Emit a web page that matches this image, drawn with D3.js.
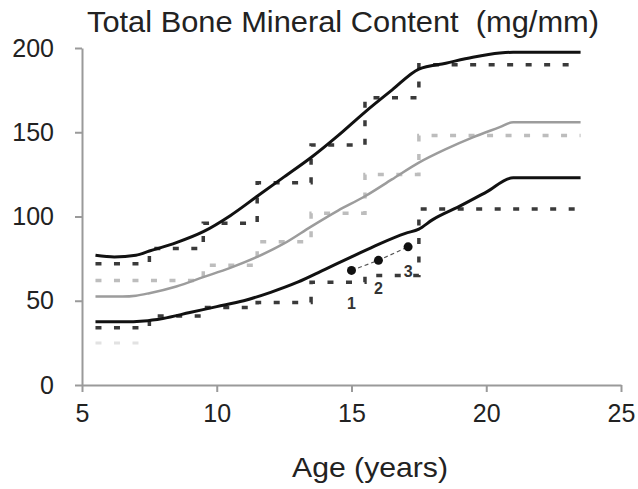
<!DOCTYPE html>
<html>
<head>
<meta charset="utf-8">
<script src="https://cdn.jsdelivr.net/npm/d3@7"></script>
<style>
  body { margin: 0; background: #fff; }
  text { font-family: "Liberation Sans", Arial, sans-serif; }
</style>
</head>
<body>
<script>
// reference curves (age, mg/mm)
var upperCurve = [[5.5,77],[6.2,76],[7,77],[7.5,79.5],[8.5,84.5],[9.5,91],[10.5,100.5],[11.5,112],[12.5,123.5],
  [13.5,135],[14.5,148],[15.5,162],[16.5,175],[17.5,187.5],[18.5,191],[19.5,194.5],[20.5,197],[21,197.5],[23.5,197.5]];
var medianCurve = [[5.5,52.5],[6.5,52.5],[7,53],[7.5,54.5],[8.5,58.5],[9.5,64],[10.5,69.5],[11.5,76],[12.5,84],
  [13.5,94],[14.5,103.5],[15.5,112],[16.5,122],[17.5,132],[18.5,140],[19.5,147],[20.5,153],[21,156],[23.5,156]];
var lowerCurve = [[5.5,37.5],[6.5,37.5],[7.3,38],[8,39.5],[9,43],[10,46.5],[11,50],[12,55],[13,61],[14,68.5],
  [15,76],[16,83.5],[17,90],[17.5,92.5],[18,98],[19,106],[20,114.5],[21,123],[23.5,123]];

// age bins of the step (dotted) series
var binEdges = [5.5, 7.5, 9.5, 11.5, 13.5, 15.5, 17.5, 23.5];
var upperSteps = [72, 81, 96, 120, 142.5, 170.5, 190];
var medianSteps = [62, 62, 71, 85, 102, 125, 148];
var lowerSteps = [34, 41, 46, 49, 61, 65, 104.5];
var faintSteps = [25];

// patient measurements
var patientAge = [15, 16, 17.1];
var patientBmc = [68, 74, 82];
var patientLabels = ["1", "2", "3"];
var labelDrop = [33, 28, 24];

var xTicks = [5, 10, 15, 20, 25];
var yTicks = [0, 50, 100, 150, 200];

var width = 638, height = 489;
var svg = d3.select('body').append('svg').attr('width', width).attr('height', height);

var x = d3.scaleLinear().domain([5, 25]).range([82, 621]);
var y = d3.scaleLinear().domain([0, 200]).range([385, 48]);

// axes
var xAxis = svg.append('g').attr('transform', 'translate(0,385)')
  .call(d3.axisBottom(x).tickValues(xTicks).tickSize(7).tickSizeOuter(0).tickPadding(12));
var yAxis = svg.append('g').attr('transform', 'translate(82,0)')
  .call(d3.axisLeft(y).tickValues(yTicks).tickSize(7).tickSizeOuter(0).tickPadding(21));
[xAxis, yAxis].forEach(function (g) {
  g.selectAll('path, line').attr('stroke', '#9a9a9a').attr('stroke-width', 2);
  g.selectAll('text').attr('fill', '#222').style('font-size', '25px');
});

function steps(vals) {
  var pts = vals.map(function (v, i) { return [binEdges[i], v]; });
  pts.push([binEdges[vals.length], vals[vals.length - 1]]);
  return pts;
}
var stepLine = d3.line().curve(d3.curveStepAfter)
  .x(function (d) { return x(d[0]); }).y(function (d) { return y(d[1]); });
var smooth = d3.line().curve(d3.curveMonotoneX)
  .x(function (d) { return x(d[0]); }).y(function (d) { return y(d[1]); });

// dotted step series
svg.append('path').attr('d', stepLine(steps(faintSteps))).attr('fill', 'none')
  .attr('stroke', '#e2e2e2').attr('stroke-width', 3).attr('stroke-dasharray', '6,12.5');
svg.append('path').attr('d', stepLine(steps(medianSteps))).attr('fill', 'none')
  .attr('stroke', '#bdbdbd').attr('stroke-width', 3.5).attr('stroke-dasharray', '6,12.5');
[upperSteps, lowerSteps].forEach(function (s) {
  svg.append('path').attr('d', stepLine(steps(s))).attr('fill', 'none')
    .attr('stroke', '#3a3a3a').attr('stroke-width', 3.5).attr('stroke-dasharray', '6,12.5');
});

// solid reference curves
svg.append('path').attr('d', smooth(medianCurve)).attr('fill', 'none')
  .attr('stroke', '#9c9c9c').attr('stroke-width', 2.5);
[upperCurve, lowerCurve].forEach(function (c) {
  svg.append('path').attr('d', smooth(c)).attr('fill', 'none')
    .attr('stroke', '#111').attr('stroke-width', 3);
});

// patient
var pts = patientAge.map(function (a, i) { return [a, patientBmc[i]]; });
svg.append('path').attr('d', d3.line().x(function (d) { return x(d[0]); }).y(function (d) { return y(d[1]); })(pts))
  .attr('fill', 'none').attr('stroke', '#555').attr('stroke-width', 1.2).attr('stroke-dasharray', '4,3');
svg.selectAll('circle.pt').data(pts).enter().append('circle')
  .attr('cx', function (d) { return x(d[0]); }).attr('cy', function (d) { return y(d[1]); })
  .attr('r', 4.5).attr('fill', '#111');
svg.selectAll('text.lbl').data(pts).enter().append('text')
  .attr('x', function (d) { return x(d[0]); })
  .attr('y', function (d, i) { return y(d[1]) + labelDrop[i] + 6; })
  .attr('text-anchor', 'middle').attr('fill', '#333')
  .style('font-size', '16px').style('font-weight', 'bold')
  .text(function (d, i) { return patientLabels[i]; });

// titles
svg.append('text').attr('x', 87).attr('y', 32).attr('fill', '#222')
  .attr('textLength', 512).attr('lengthAdjust', 'spacingAndGlyphs')
  .style('font-size', '29px').style('white-space', 'pre')
  .text('Total Bone Mineral Content  (mg/mm)');
svg.append('text').attr('x', 370).attr('y', 477).attr('text-anchor', 'middle').attr('fill', '#222')
  .attr('textLength', 156).attr('lengthAdjust', 'spacingAndGlyphs')
  .style('font-size', '28px').text('Age (years)');
</script>
</body>
</html>
